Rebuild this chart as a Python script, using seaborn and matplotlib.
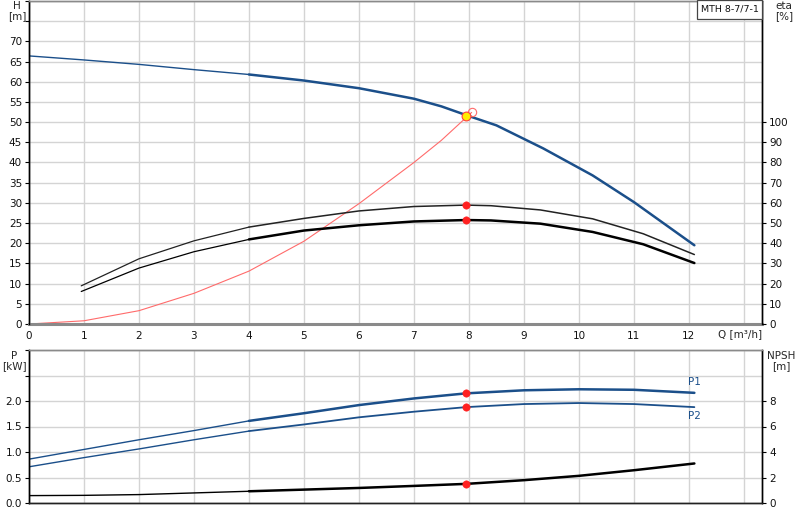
import matplotlib
matplotlib.use("Agg")
import matplotlib.pyplot as plt
from matplotlib.patches import Rectangle
import seaborn as sns

# ------------------------------------------------------------------
# curve data
# ------------------------------------------------------------------
q_head = [0, 1, 2, 3, 4, 5, 6, 7, 7.5, 8, 8.5, 9.35, 10.25, 11, 12.1]
head = [66.4, 65.4, 64.3, 63.0, 61.8, 60.3, 58.4, 55.8, 53.9, 51.5, 49.2, 43.5, 36.8, 30.2, 19.5]

q_eta = [0.95, 2, 3, 4, 5, 6, 7, 7.95, 8.4, 9.3, 10.25, 11.17, 12.1]
eta_pump = [18.9, 32.3, 41.2, 48.0, 52.3, 56.0, 58.2, 58.9, 58.6, 56.5, 52.1, 44.7, 34.4]
eta_total = [16.1, 27.7, 35.8, 41.9, 46.3, 48.9, 50.8, 51.5, 51.3, 49.7, 45.6, 39.5, 30.2]

q_sys = [0, 1, 2, 3, 4, 5, 6, 7, 7.5, 8.05]
h_sys = [0, 0.8, 3.3, 7.6, 13.1, 20.5, 29.8, 40.0, 45.5, 52.4]

q_pow = [0, 1, 2, 3, 4, 5, 6, 7, 7.95, 9, 10, 11, 12.1]
p1 = [0.86, 1.05, 1.24, 1.42, 1.61, 1.76, 1.92, 2.05, 2.15, 2.21, 2.23, 2.22, 2.16]
p2 = [0.71, 0.89, 1.06, 1.24, 1.41, 1.54, 1.68, 1.79, 1.88, 1.94, 1.96, 1.94, 1.88]
npsh = [0.58, 0.60, 0.66, 0.79, 0.92, 1.05, 1.18, 1.34, 1.50, 1.79, 2.13, 2.57, 3.10]

# duty point
q_duty = 7.95
h_duty = 51.5
eta_duty = [58.9, 51.5]
p_duty = [2.15, 1.88]
npsh_duty = 1.5

x_ticks = list(range(0, 14))
x_labels = [str(v) for v in range(0, 13)] + [""]
h_ticks = list(range(0, 85, 5))
h_labels = [str(v) for v in range(0, 75, 5)] + ["", ""]
eta_ticks = list(range(0, 110, 10))
p_ticks = [0, 0.5, 1.0, 1.5, 2.0, 2.5, 3.0]
p_labels = ["0.0", "0.5", "1.0", "1.5", "2.0", "", ""]
npsh_ticks = [0, 2, 4, 6, 8]

BLUE = "#1b4f8a"
RED = "#ff2020"
GRID = "#d4d4d4"

sns.set_style("white")
plt.rcParams["font.family"] = ["DejaVu Sans"]
plt.rcParams["font.size"] = 7.5


def split_line(ax, xs, ys, color, thin=1.0, thick=1.8, cut=4):
    """thin line below the recommended range, thick inside it"""
    lo = [(x, y) for x, y in zip(xs, ys) if x <= cut]
    hi = [(x, y) for x, y in zip(xs, ys) if x >= cut]
    if lo:
        sns.lineplot(x=[p[0] for p in lo], y=[p[1] for p in lo], ax=ax,
                     color=color, linewidth=thin)
    if hi:
        sns.lineplot(x=[p[0] for p in hi], y=[p[1] for p in hi], ax=ax,
                     color=color, linewidth=thick)


def style_axes(ax):
    for side in ["top", "bottom"]:
        ax.spines[side].set_color("#8a8a8a")
        ax.spines[side].set_linewidth(1.0)
    for side in ["left", "right"]:
        ax.spines[side].set_color("#000000")
        ax.spines[side].set_linewidth(1.0)
    ax.tick_params(length=3, width=0.8, color="#000000", labelcolor="#111111", pad=2)


fig = plt.figure(figsize=(8, 5.2), dpi=100)

# ------------------------------------------------------------------
# head / efficiency chart
# ------------------------------------------------------------------
ax_h = fig.add_axes([29 / 800, 1 - 324 / 520, 733 / 800, 323 / 520])
ax_h.set_xlim(0, 13.33)
ax_h.set_ylim(0, 80)
ax_h.set_xticks(x_ticks)
ax_h.set_xticklabels(x_labels)
ax_h.set_yticks(h_ticks)
ax_h.set_yticklabels(h_labels)
ax_h.grid(True, color=GRID, linewidth=1.0)
ax_h.set_axisbelow(True)
style_axes(ax_h)
ax_h.spines["bottom"].set_linewidth(2.2)
ax_h.tick_params(axis="x", color="#8a8a8a")

sns.lineplot(x=q_sys, y=h_sys, ax=ax_h, color="#ff6b6b", linewidth=0.8)
split_line(ax_h, q_head, head, BLUE)
ax_h.plot([q_sys[-1]], [h_sys[-1]], marker="o", markersize=6,
          markerfacecolor="none", markeredgecolor="#ff6b6b", markeredgewidth=0.8)
sns.scatterplot(x=[q_duty], y=[h_duty], ax=ax_h, color="#ffee00",
                edgecolor="#ff4040", linewidth=0.8, s=40, zorder=5)
ax_h.set_xlabel("")
ax_h.set_ylabel("")

ax_eta = ax_h.twinx()
ax_eta.set_ylim(0, 160)
ax_eta.set_yticks(eta_ticks)
style_axes(ax_eta)
ax_eta.spines["bottom"].set_visible(False)
split_line(ax_eta, q_eta, eta_pump, "#222222", thin=0.9, thick=1.1)
split_line(ax_eta, q_eta, eta_total, "#000000", thin=0.9, thick=1.8)
sns.scatterplot(x=[q_duty, q_duty], y=eta_duty, ax=ax_eta, color=RED,
                edgecolor=RED, s=28, zorder=5)
ax_eta.set_ylabel("")
ax_eta.grid(False)

# pump name box in the top right corner
fig.add_artist(Rectangle((697 / 800, 1 - 19 / 520), 65 / 800, 19 / 520,
                         transform=fig.transFigure, facecolor="white",
                         edgecolor="#444444", linewidth=0.9, zorder=10))
fig.text(729.5 / 800, 1 - 9.5 / 520, "MTH 8-7/7-1", ha="center", va="center",
         fontsize=6.8, color="#111111", zorder=11)

fig.text(17 / 800, 1 - 11 / 520, "H\n[m]", ha="center", va="center",
         fontsize=7.5, linespacing=1.1)
fig.text(775 / 800, 1 - 11 / 520, "eta\n[%]", ha="left", va="center",
         fontsize=7.5, linespacing=1.1)
fig.text(718 / 800, 1 - 334 / 520, "Q [m³/h]", ha="left", va="center", fontsize=7.5)

# ------------------------------------------------------------------
# power / NPSH chart
# ------------------------------------------------------------------
ax_p = fig.add_axes([29 / 800, 1 - 503 / 520, 733 / 800, 153 / 520])
ax_p.set_xlim(0, 13.33)
ax_p.set_ylim(0, 3.0)
ax_p.set_xticks(x_ticks)
ax_p.set_xticklabels([])
ax_p.set_yticks(p_ticks)
ax_p.set_yticklabels(p_labels)
ax_p.grid(True, color=GRID, linewidth=1.0)
ax_p.set_axisbelow(True)
style_axes(ax_p)
ax_p.spines["bottom"].set_color("#222222")
ax_p.tick_params(axis="x", length=0)

split_line(ax_p, q_pow, p1, BLUE)
split_line(ax_p, q_pow, p2, BLUE, thin=1.0, thick=1.3)
sns.scatterplot(x=[q_duty, q_duty], y=p_duty, ax=ax_p, color=RED,
                edgecolor=RED, s=28, zorder=5)
ax_p.text(q_pow[-1], p1[-1] + 0.12, "P1", color=BLUE, fontsize=7.5, ha="center", va="bottom")
ax_p.text(q_pow[-1], p2[-1] - 0.08, "P2", color=BLUE, fontsize=7.5, ha="center", va="top")
ax_p.set_xlabel("")
ax_p.set_ylabel("")

ax_n = ax_p.twinx()
ax_n.set_ylim(0, 12)
ax_n.set_yticks(npsh_ticks)
style_axes(ax_n)
ax_n.spines["bottom"].set_color("#222222")
split_line(ax_n, q_pow, npsh, "#000000")
sns.scatterplot(x=[q_duty], y=[npsh_duty], ax=ax_n, color=RED,
                edgecolor=RED, s=28, zorder=5)
ax_n.set_ylabel("")
ax_n.grid(False)

fig.text(14 / 800, 1 - 361 / 520, "P\n[kW]", ha="center", va="center",
         fontsize=7.5, linespacing=1.1)
fig.text(781 / 800, 1 - 361 / 520, "NPSH\n[m]", ha="center", va="center",
         fontsize=7.5, linespacing=1.1)

fig.savefig("out.png", dpi=100, facecolor="white")
